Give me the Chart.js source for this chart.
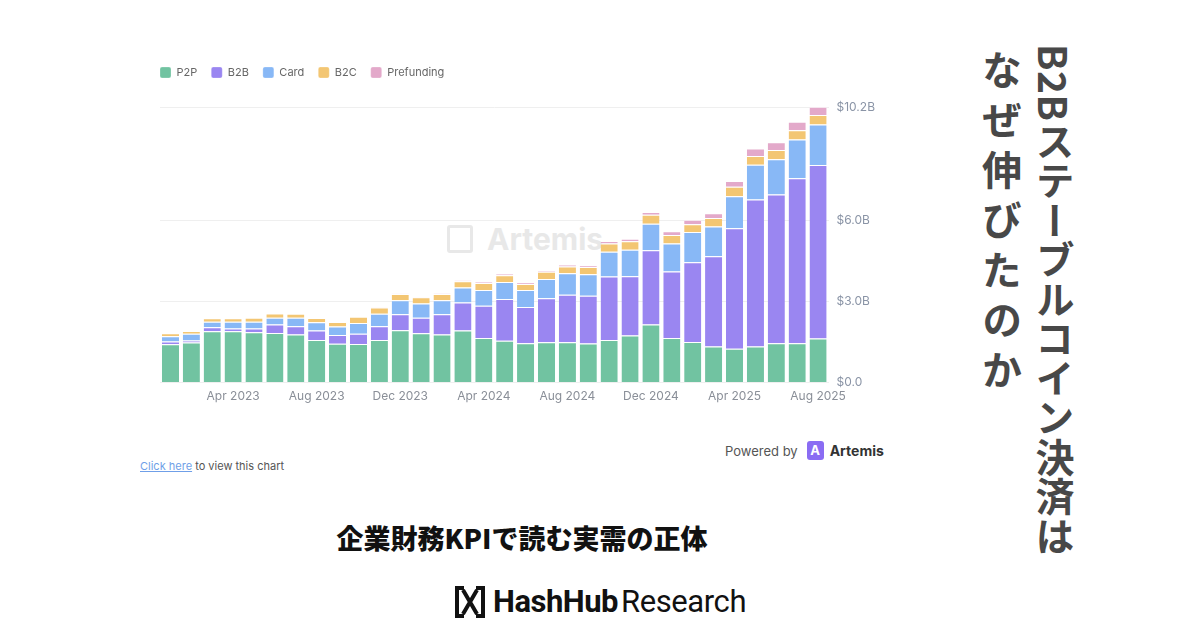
<!DOCTYPE html>
<html>
<head>
<meta charset="utf-8">
<script src="https://cdn.jsdelivr.net/npm/chart.js@4.4.1/dist/chart.umd.min.js"></script>
<style>
  html, body { margin: 0; padding: 0; background: #fff; }
  body { width: 1200px; height: 630px; position: relative; overflow: hidden; font-family: "Inter", "Roboto", sans-serif; }
  #wrap { position: absolute; left: 150px; top: 53px; width: 737px; height: 358px; }
  .wm { position: absolute; left: 447px; top: 221px; color: #e8e8e8; font: 700 30px "Inter", sans-serif; display: flex; align-items: center; }
  .wm .ico { width: 26px; height: 28px; border: 3px solid #e8e8e8; border-radius: 3px; margin-right: 14px; box-sizing: border-box; }
  .powered { position: absolute; left: 725px; top: 441px; font: 13px "Inter", sans-serif; color: #555; display: flex; align-items: center; }
  .powered .logo { width: 17px; height: 19px; background: #8a6cf3; border-radius: 3px; margin: 0 6px 0 9px; color: #fff; font: 700 13px "Inter", sans-serif; text-align: center; line-height: 19px; }
  .powered b { color: #333; font-size: 14px; }
  .click { position: absolute; left: 140px; top: 459px; font: 11px "Inter", sans-serif; color: #555; }
  .click span { color: #6f9fe8; text-decoration: underline; }
  .sub { position: absolute; left: 0; width: 1044px; top: 518px; text-align: center; font: 900 27px "Noto Sans CJK JP", sans-serif; color: #111; }
  .vt { position: absolute; writing-mode: vertical-rl; font-family: "Noto Sans CJK JP", sans-serif; font-weight: 700; color: #484848; }
  .vt1 { left: 1035px; top: 44px; font-size: 39px; line-height: 40px; letter-spacing: 0.5px; }
  .vt2 { left: 981px; top: 50px; font-size: 40px; line-height: 42px; letter-spacing: 10px; }
  .hh { position: absolute; left: 455px; top: 583px; display: flex; align-items: center; font-family: "Roboto", sans-serif; color: #111; }
  .hh .t1 { font-weight: 700; font-size: 31px; letter-spacing: -0.5px; margin-left: 8px; }
  .hh .t2 { font-weight: 400; font-size: 31px; letter-spacing: -0.4px; margin-left: 3px; }
</style>
</head>
<body>
<div class="wm"><div class="ico"></div>Artemis</div>
<div id="wrap"><canvas id="chart"></canvas></div>
<div class="powered">Powered by <div class="logo">A</div><b>Artemis</b></div>
<div class="click"><span>Click here</span> to view this chart</div>
<div class="sub">企業財務KPIで読む実需の正体</div>
<div class="vt vt1">B2Bステーブルコイン決済は</div>
<div class="vt vt2">なぜ伸びたのか</div>
<div class="hh">
  <svg width="30" height="32" viewBox="0 0 30 32">
    <path d="M9 2H2v28h7 M21 2h7v28h-7 M8 4l14 24 M22 4L8 28" stroke="#111" stroke-width="4" fill="none"/>
  </svg>
  <span class="t1">HashHub</span><span class="t2">Research</span>
</div>
<script>
const months = ["Jan 2023", "Feb 2023", "Mar 2023", "Apr 2023", "May 2023", "Jun 2023", "Jul 2023", "Aug 2023",
  "Sep 2023", "Oct 2023", "Nov 2023", "Dec 2023", "Jan 2024", "Feb 2024", "Mar 2024", "Apr 2024",
  "May 2024", "Jun 2024", "Jul 2024", "Aug 2024", "Sep 2024", "Oct 2024", "Nov 2024", "Dec 2024",
  "Jan 2025", "Feb 2025", "Mar 2025", "Apr 2025", "May 2025", "Jun 2025", "Jul 2025", "Aug 2025"];
// values in $B per month
const p2p = [1.42, 1.48, 1.90, 1.90, 1.86, 1.84, 1.78, 1.58, 1.44, 1.43, 1.58, 1.94, 1.83, 1.78, 1.93, 1.65,
  1.55, 1.46, 1.49, 1.49, 1.45, 1.58, 1.74, 2.15, 1.65, 1.50, 1.34, 1.25, 1.34, 1.46, 1.46, 1.63];
const b2b = [0.10, 0.08, 0.15, 0.10, 0.14, 0.31, 0.31, 0.35, 0.32, 0.38, 0.51, 0.59, 0.57, 0.75, 1.03, 1.19,
  1.54, 1.34, 1.63, 1.76, 1.76, 2.35, 2.20, 2.75, 2.46, 2.95, 3.34, 4.46, 5.44, 5.50, 6.10, 6.42];
const card = [0.20, 0.25, 0.20, 0.25, 0.25, 0.25, 0.31, 0.30, 0.32, 0.40, 0.46, 0.52, 0.53, 0.52, 0.56, 0.59,
  0.63, 0.63, 0.71, 0.80, 0.80, 0.91, 0.98, 0.98, 1.04, 1.12, 1.10, 1.19, 1.28, 1.31, 1.44, 1.50];
const b2c = [0.11, 0.10, 0.13, 0.13, 0.15, 0.16, 0.15, 0.16, 0.16, 0.23, 0.23, 0.23, 0.23, 0.23, 0.23, 0.26,
  0.25, 0.22, 0.27, 0.25, 0.27, 0.31, 0.31, 0.33, 0.31, 0.29, 0.31, 0.35, 0.33, 0.34, 0.34, 0.35];
const prefunding = [0, 0, 0, 0, 0, 0, 0, 0, 0, 0, 0.01, 0.01, 0.02, 0.02, 0.03, 0.03,
  0.06, 0.05, 0.05, 0.06, 0.05, 0.09, 0.09, 0.10, 0.14, 0.17, 0.18, 0.21, 0.27, 0.29, 0.31, 0.31];
const yTicks = [0, 3, 6, 10.2];

const seg = (label, data, color) => ({
  label: label,
  data: data,
  backgroundColor: color,
  borderColor: "#ffffff",
  borderWidth: { top: 1, left: 0, right: 0, bottom: 0 },
  borderSkipped: false,
  barPercentage: 0.82,
  categoryPercentage: 1,
});

// extra room under the legend, and legend pulled flush with the plot's left edge
const legendGap = {
  id: "legendGap",
  beforeInit(chart) {
    const fit = chart.legend.fit;
    chart.legend.fit = function () {
      fit.bind(chart.legend)();
      this.height += 19;
    };
  },
  afterLayout(chart) {
    chart.legend.left -= 14;
    chart.legend.right -= 14;
  },
};

const ctx = document.getElementById("chart");
new Chart(ctx, {
  type: "bar",
  data: {
    labels: months,
    datasets: [
      seg("P2P", p2p, "#71c3a1"),
      seg("B2B", b2b, "#9a86f1"),
      seg("Card", card, "#88b8f6"),
      seg("B2C", b2c, "#f3c673"),
      seg("Prefunding", prefunding, "#e3a9ca"),
    ],
  },
  options: {
    responsive: true,
    maintainAspectRatio: false,
    animation: false,
    layout: { padding: { left: 10, right: 4, top: 0, bottom: 0 } },
    plugins: {
      tooltip: { enabled: false },
      legend: {
        display: true,
        position: "top",
        align: "start",
        labels: {
          boxWidth: 11,
          boxHeight: 11,
          useBorderRadius: true,
          borderRadius: 2,
          padding: 14,
          color: "#666",
          font: { family: "Inter", size: 11 },
        },
      },
    },
    scales: {
      x: {
        stacked: true,
        grid: { display: false, drawTicks: false },
        border: { display: false },
        ticks: {
          autoSkip: false,
          maxRotation: 0,
          color: "#8a8f98",
          font: { family: "Inter", size: 12 },
          padding: 7,
          callback: function (v, i) { return i % 4 === 3 ? months[i] : ""; },
        },
      },
      y: {
        stacked: true,
        position: "right",
        min: 0,
        max: 10.2,
        afterBuildTicks: (axis) => { axis.ticks = yTicks.map((v) => ({ value: v })); },
        grid: { color: "#efefef", drawTicks: false },
        border: { display: false },
        ticks: {
          color: "#8a94a6",
          font: { family: "Inter", size: 12 },
          padding: 8,
          callback: (v) => (v === 0 ? "$0.0" : "$" + v.toFixed(1) + "B"),
        },
      },
    },
  },
  plugins: [legendGap],
});
</script>
</body>
</html>
